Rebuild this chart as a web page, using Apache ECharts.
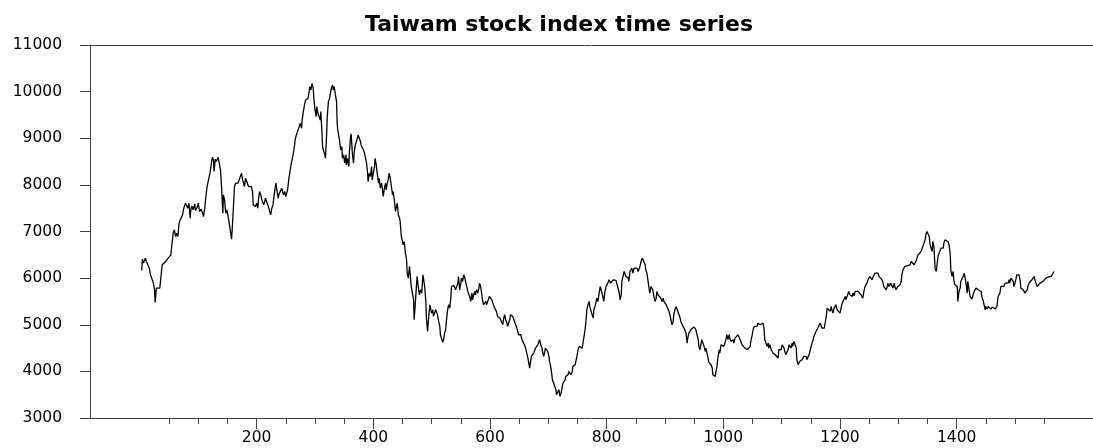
<!DOCTYPE html>
<html>
<head>
<meta charset="utf-8">
<script src="https://cdn.jsdelivr.net/npm/echarts@6/dist/echarts.min.js"></script>
<style>
  html, body { margin: 0; padding: 0; background: #fff; }
  #chart { width: 1093px; height: 448px; }
</style>
</head>
<body>
<div id="chart"></div>
<script>
// Taiwan stock index, daily closes as [trading day, index level], split by period
const climb1 = [[3,6164],[4,6407],[6,6321],[9,6429],[11,6357],[14,6321],[16,6214],[18,6071],[21,6107],[23,5893],[25,5736],[26,5479],[28,5786],[30,5750],[34,5786],[37,5786],[38,6286],[41,6264],[44,6357],[47,6407],[50,6429],[53,6500],[54,6643],[57,6979],[59,7036],[61,6893],[63,6964],[65,6893],[67,7179],[69,7250],[71,7264],[73,7357],[75,7500],[78,7607],[80,7621],[82,7500],[84,7607],[86,7286],[87,7464],[89,7550],[91,7464],[94,7593],[95,7450],[98,7521],[100,7607],[102,7429],[105,7479],[107,7407],[109,7321],[111,7500],[113,7750],[115,7964],[118,8000],[120,8250],[122,8286],[124,8593],[126,8536],[127,8286],[129,8550],[131,8500],[134,8593],[136,8571],[138,8321],[140,7929],[142,7393],[143,7786],[145,7679],[147,7393],[149,7464],[151,7321],[153,7179],[155,7000],[157,6836],[159,7250],[161,7286],[162,7964],[164,8036],[166,8071],[168,8036],[170,8107],[173,8071],[174,8250],[176,8107],[178,8143],[179,7964],[181,8143],[183,8071],[185,8107],[186,7964],[189,7929],[191,7964],[193,7857],[194,7571],[196,7607],[198,7536],[200,7607],[202,7500],[203,7679],[205,7857],[207,7786],[209,7679],[210,7714],[212,7571],[214,7643],[215,7714],[217,7643],[219,7571],[221,7500],[222,7450],[224,7357],[226,7500],[228,7571],[230,7786],[233,8036],[235,7857],[237,7714],[238,7786],[240,7750]];

const peak = [[241,7821],[243,7929],[246,7786],[248,7857],[250,7750],[253,7893],[255,8107],[257,8286],[259,8429],[261,8450],[263,8679],[265,8857],[266,8964],[268,9071],[270,9036],[271,9179],[273,9214],[275,9321],[277,9214],[278,9393],[280,9571],[282,9714],[284,9821],[286,9857],[288,9857],[290,10000],[291,10107],[293,10036],[295,10179],[297,10071],[298,9857],[300,9607],[302,9464],[303,9679],[305,9536],[307,9571],[309,9393],[310,9571],[312,9107],[313,8821],[315,8714],[317,8643],[318,8571],[320,9107],[321,9464],[323,9786],[325,9857],[326,9929],[328,10071],[330,10143],[331,10036],[333,10107],[335,9929],[337,9786],[338,9321],[339,9179],[341,9036],[342,8964],[344,8750],[346,8821],[347,8571],[349,8643],[351,8464],[353,8643],[354,8429],[356,8571],[358,8393],[359,8714],[361,9036],[362,9093],[364,8679],[366,8464],[367,8679],[369,8857],[371,8929],[373,8964],[374,9071],[376,9000],[378,8929],[379,8857],[381,8821],[383,8750],[385,8679],[386,8607],[388,8500],[390,8286],[391,8071],[393,8250],[395,8179],[397,8393],[398,8107],[400,8250],[402,8393],[403,8571],[405,8429],[407,8214],[409,8036],[410,8143],[412,7929],[414,8036],[415,7964],[417,7750],[419,7929],[421,8036],[422,7893],[424,8036],[426,8143],[427,8250],[429,8143],[431,7964],[433,7786],[434,7857],[436,7679],[438,7429],[439,7500],[441,7607],[443,7357],[445,7286],[446,7214],[448,6893],[450,6786],[451,6714],[453,6786],[455,6536],[457,6393],[458,6107],[460,6000],[462,6250],[463,6107],[465,5821],[467,5679],[469,5536],[470,5107],[472,5464],[474,5857],[475,6036],[477,5821],[479,5643],[480,5607]];

const slide = [[481,5750],[483,5679],[485,6071],[486,6107],[488,5821],[490,5500],[491,5143],[493,4857],[495,5179],[497,5429],[498,5357],[500,5250],[502,5321],[503,5179],[505,5214],[507,5321],[509,5357],[510,5214],[512,5071],[514,4964],[515,4786],[517,4750],[519,4621],[521,4714],[522,4821],[524,4893],[526,5179],[527,5286],[529,5429],[531,5357],[533,5607],[534,5821],[536,5857],[538,5843],[539,5836],[541,5750],[543,5786],[545,5893],[546,6036],[548,5750],[550,5893],[551,6000],[553,5929],[555,6071],[557,6000],[558,5929],[560,5893],[562,5714],[563,5714],[565,5607],[567,5500],[569,5679],[570,5536],[572,5643],[574,5714],[575,5643],[577,5750],[579,5679],[581,5786],[582,5893],[584,5821],[586,5643],[587,5536],[589,5429],[591,5393],[593,5500],[594,5429],[596,5500],[598,5536],[599,5607],[601,5571],[603,5536],[605,5464],[606,5429],[608,5357],[610,5393],[611,5286],[613,5179],[615,5214],[617,5143],[618,5164],[620,5107],[622,5000],[623,5107],[625,5214],[627,5107],[629,5036],[630,4964],[632,5036],[634,5107],[635,5214],[637,5250],[639,5179],[641,5107],[642,5071],[644,5000],[646,4929],[647,4893],[649,4786],[651,4821],[653,4786],[654,4714],[656,4643],[658,4607],[659,4571],[661,4500],[663,4393],[665,4286],[666,4214],[668,4071],[670,4250],[671,4321],[673,4321],[675,4393],[677,4429],[678,4500],[680,4464],[682,4571],[683,4607],[685,4679],[687,4571],[689,4500],[690,4429],[692,4321],[694,4429],[695,4500],[697,4500],[699,4429],[701,4321],[702,4214],[704,4107],[706,3929],[707,3821],[709,3750],[711,3750],[713,3607],[714,3500],[716,3536],[718,3607],[720,3464]];

const rebound = [[722,3536],[723,3607],[725,3750],[727,3786],[729,3821],[730,3893],[732,3857],[734,3929],[735,4000],[737,4036],[739,3929],[741,4000],[742,4107],[744,4143],[746,4143],[747,4179],[749,4321],[751,4464],[753,4536],[754,4500],[756,4571],[758,4500],[759,4464],[761,4536],[763,4893],[765,5143],[766,5321],[768,5429],[770,5500],[771,5393],[773,5429],[775,5214],[777,5143],[778,5321],[780,5393],[782,5500],[783,5571],[785,5500],[787,5679],[789,5821],[790,5857],[792,5679],[794,5571],[795,5500],[797,5714],[799,5821],[801,5857],[802,5893],[804,5964],[806,5929],[807,5893],[809,5929],[811,5964],[813,5929],[814,5964],[816,5950],[818,5929],[819,5964],[821,5714],[823,5536],[825,5643],[826,5929],[828,6036],[830,6143],[831,6179],[833,6036],[835,6071],[837,6000],[838,5929],[840,6143],[842,6179],[843,6214],[845,6107],[847,6214],[849,6250],[850,6179],[852,6214],[854,6143],[855,6107],[857,6250],[859,6357],[861,6429],[862,6464],[864,6429],[866,6286],[867,6179],[869,6107],[871,5929],[873,5750],[874,5679],[876,5821],[878,5857],[879,5750],[881,5607],[883,5500],[885,5571],[886,5714],[888,5643],[890,5679],[891,5607],[893,5571],[895,5500],[897,5571],[898,5500],[900,5536],[902,5429],[903,5393],[905,5464],[907,5286],[909,5179],[910,5107],[912,5000],[914,5071],[915,5214],[917,5321],[919,5393],[921,5357],[922,5286],[924,5214],[926,5143],[927,5071],[929,5107],[931,4964],[933,4929],[934,4893],[936,4821],[938,4607],[939,4714],[941,4821],[943,4857],[945,4907],[946,4929],[948,4907],[950,4950],[951,4964],[953,4893],[955,4786],[957,4679],[958,4536],[960,4464]];

const trough = [[962,4607],[963,4679],[965,4643],[967,4536],[969,4429],[970,4500],[972,4393],[974,4286],[975,4193],[977,4179],[979,4143],[981,4071],[982,3929],[984,3964],[986,3893],[987,3857],[989,4107],[991,4321],[993,4464],[994,4393],[996,4571],[998,4536],[999,4571],[1001,4536],[1003,4536],[1005,4714],[1006,4786],[1008,4679],[1010,4786],[1011,4714],[1013,4643],[1015,4607],[1017,4679],[1018,4607],[1020,4714],[1022,4750],[1023,4679],[1025,4786],[1027,4750],[1029,4679],[1030,4643],[1032,4571],[1034,4536],[1035,4536],[1037,4500],[1039,4536],[1041,4464],[1042,4464],[1044,4500],[1046,4536],[1047,4643],[1049,4750],[1051,4893],[1053,4964],[1054,4929],[1056,5000],[1058,4964],[1059,5036],[1061,5071],[1063,5000],[1065,5036],[1066,5000],[1068,5036],[1070,4893],[1071,4679],[1073,4643],[1075,4536],[1077,4607],[1078,4500],[1080,4571],[1082,4464],[1083,4500],[1085,4393],[1087,4429],[1089,4357],[1090,4321],[1092,4357],[1094,4286],[1095,4464],[1097,4500],[1099,4464],[1101,4571],[1102,4536],[1104,4500],[1106,4464],[1107,4357],[1109,4393],[1111,4464],[1113,4571],[1114,4536],[1116,4500],[1118,4607],[1119,4536],[1121,4643],[1123,4607],[1125,4500],[1126,4250],[1128,4143],[1130,4143],[1131,4214],[1133,4179],[1135,4250],[1137,4250],[1138,4321],[1140,4286],[1142,4321],[1143,4250],[1145,4214],[1147,4357],[1149,4464],[1150,4500],[1152,4607],[1154,4679],[1155,4750],[1157,4786],[1159,4857],[1161,4893],[1162,4929],[1164,4964],[1166,5036],[1167,5000],[1169,4929],[1171,4893],[1173,4929],[1174,5000],[1176,5143],[1178,5357],[1179,5321],[1181,5357],[1183,5286],[1185,5393],[1186,5321],[1188,5250],[1190,5357],[1191,5393],[1193,5429],[1195,5321],[1197,5357],[1198,5286],[1200,5250]];

const recovery = [[1202,5214],[1203,5429],[1205,5500],[1207,5536],[1209,5607],[1210,5536],[1212,5607],[1214,5643],[1215,5714],[1217,5643],[1219,5679],[1221,5607],[1222,5679],[1224,5621],[1226,5714],[1227,5679],[1229,5750],[1231,5714],[1233,5679],[1234,5714],[1236,5643],[1238,5607],[1239,5571],[1241,5714],[1243,5821],[1245,5857],[1246,5893],[1248,5964],[1250,5929],[1251,6036],[1253,6071],[1255,5964],[1257,6036],[1258,6071],[1260,6107],[1262,6143],[1263,6071],[1265,6107],[1267,6036],[1269,6071],[1270,6000],[1272,5964],[1274,5893],[1275,5821],[1277,5786],[1279,5750],[1281,5821],[1282,5893],[1284,5821],[1286,5786],[1287,5893],[1289,5857],[1291,5786],[1293,5893],[1294,5821],[1296,5750],[1298,5786],[1299,5821],[1301,5807],[1303,5857],[1305,5929],[1306,6071],[1308,6179],[1310,6214],[1311,6250],[1313,6286],[1315,6264],[1317,6271],[1318,6250],[1320,6286],[1322,6357],[1323,6321],[1325,6357],[1327,6286],[1329,6250],[1330,6357],[1332,6429],[1334,6500],[1335,6464],[1337,6536],[1339,6571],[1341,6643],[1342,6607],[1344,6679],[1346,6821],[1347,6929],[1349,7000],[1351,6964],[1353,6893],[1354,6750],[1356,6643],[1358,6571],[1359,6786],[1361,6679],[1363,6214],[1365,6143],[1366,6179],[1368,6464],[1370,6536],[1371,6571],[1373,6643],[1375,6679],[1377,6643],[1378,6750],[1380,6821],[1382,6857],[1383,6786],[1385,6786],[1387,6714],[1389,6500],[1390,6179],[1392,6036],[1394,6143],[1395,5964],[1397,5857],[1399,5893],[1401,5821],[1402,5500],[1404,5714],[1406,5786],[1407,5929],[1409,5964],[1411,6036],[1413,6107],[1414,6036],[1416,5893],[1418,5679],[1419,5929],[1421,5964],[1423,5607],[1425,5571],[1426,5550],[1428,5571],[1430,5714],[1431,5750],[1433,5786],[1435,5821],[1437,5750],[1438,5714],[1440,5736]];

const latest = [[1442,5714],[1443,5607],[1445,5536],[1447,5429],[1449,5321],[1450,5393],[1452,5336],[1454,5393],[1455,5357],[1457,5393],[1459,5336],[1461,5379],[1462,5357],[1464,5393],[1466,5336],[1467,5357],[1469,5393],[1471,5607],[1473,5643],[1474,5679],[1476,5821],[1478,5786],[1479,5857],[1481,5821],[1483,5893],[1485,5857],[1486,5929],[1488,5893],[1490,5964],[1491,5893],[1493,6000],[1495,6036],[1497,5929],[1498,5821],[1500,5893],[1502,6000],[1503,6071],[1505,6107],[1507,6071],[1509,5929],[1510,5786],[1512,5821],[1514,5750],[1515,5714],[1517,5679],[1519,5643],[1521,5750],[1522,5821],[1524,5893],[1526,5929],[1527,5857],[1529,5964],[1531,6000],[1533,6036],[1534,5964],[1536,5893],[1538,5821],[1539,5857],[1541,5821],[1543,5893],[1545,5857],[1546,5893],[1548,5929],[1550,5907],[1551,5929],[1553,6000],[1555,6000],[1557,6021],[1558,5979],[1560,6000],[1562,6036],[1563,6036],[1565,6071],[1567,6143]];

// Axis tick positions and labels
const xLabelTicks = [200, 400, 600, 800, 1000, 1200, 1400];
const xMinorTicks = [50, 100, 150, 250, 300, 350, 450, 500, 550, 650, 700, 750, 850, 900, 950, 1050, 1100, 1150, 1250, 1300, 1350, 1450, 1500, 1550];
const yTicks = [3000, 4000, 5000, 6000, 7000, 8000, 9000, 10000, 11000];

const series = [].concat(climb1, peak, slide, rebound, trough, recovery, latest);

const AXIS = '#404040';
const FONT = 'DejaVu Sans';
const X_MIN = -85.7, X_MAX = 1633.7;
const plain = v => String(Math.round(v));

const chart = echarts.init(document.getElementById('chart'), null, { renderer: 'canvas' });
chart.setOption({
  animation: false,
  backgroundColor: '#ffffff',
  title: {
    text: 'Taiwam stock index time series',
    left: 360,
    top: 9,
    textStyle: { fontFamily: FONT, fontWeight: 'bold', fontSize: 22, color: '#000' }
  },
  grid: { left: 90, right: 0, top: 45, bottom: 30, containLabel: false },
  xAxis: [
    {
      type: 'value', min: X_MIN, max: X_MAX, position: 'bottom',
      axisLine: { show: true, onZero: false, lineStyle: { color: AXIS, width: 1 } },
      axisTick: { show: true, inside: false, length: 11, customValues: xLabelTicks, lineStyle: { color: AXIS } },
      axisLabel: { show: true, margin: 12, customValues: xLabelTicks, formatter: plain, color: '#000', fontFamily: FONT, fontSize: 15.5 },
      splitLine: { show: false }
    },
    {
      type: 'value', min: X_MIN, max: X_MAX, position: 'bottom',
      axisLine: { show: false, onZero: false },
      axisTick: { show: true, inside: false, length: 6, customValues: xMinorTicks, lineStyle: { color: AXIS } },
      axisLabel: { show: false, customValues: xMinorTicks },
      splitLine: { show: false }
    },
    {
      type: 'value', min: X_MIN, max: X_MAX, position: 'top',
      axisLine: { show: true, onZero: false, lineStyle: { color: AXIS, width: 1 } },
      axisTick: { show: false },
      axisLabel: { show: false },
      splitLine: { show: false }
    }
  ],
  yAxis: {
    type: 'value', min: 3000, max: 11000, interval: 1000, position: 'left',
    axisLine: { show: true, onZero: false, lineStyle: { color: AXIS, width: 1 } },
    axisTick: { show: true, inside: false, length: 10, lineStyle: { color: AXIS } },
    axisLabel: { margin: 28, color: '#000', fontFamily: FONT, fontSize: 15.5, formatter: plain },
    splitLine: { show: false }
  },
  series: [{
    type: 'line',
    xAxisIndex: 0,
    data: series,
    showSymbol: false,
    symbol: 'none',
    lineStyle: { color: '#000', width: 1.3 },
    silent: true
  }]
});
</script>
</body>
</html>
